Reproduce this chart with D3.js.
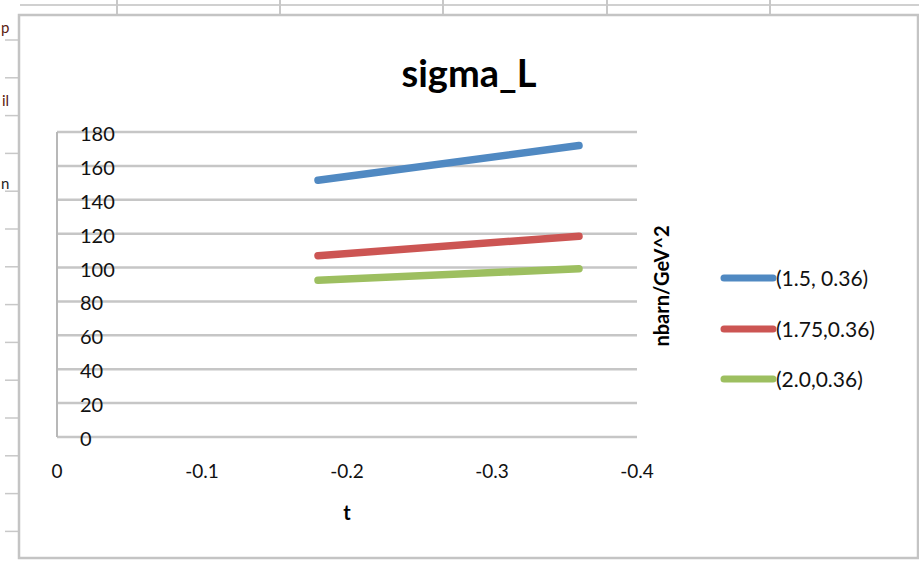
<!DOCTYPE html>
<html><head><meta charset="utf-8">
<script src="https://cdn.jsdelivr.net/npm/d3@7"></script>
<style>body{margin:0;background:#fff;}svg{display:block;}</style>
</head><body>
<script>
const tValues = [-0.18, -0.36];
const seriesNames = ["(1.5, 0.36)", "(1.75,0.36)", "(2.0,0.36)"];
const seriesBlue = [151.5, 172];
const seriesRed = [107, 118.5];
const seriesGreen = [92.5, 99.3];
const seriesColors = ["#5089c2", "#cc5553", "#9dbf60"];
const yTicks = [0, 20, 40, 60, 80, 100, 120, 140, 160, 180];
const xTicks = [0, -0.1, -0.2, -0.3, -0.4];
const xTickLabels = ["0", "-0.1", "-0.2", "-0.3", "-0.4"];

const W = 919, H = 565;
const svg = d3.select("body").append("svg").attr("width", W).attr("height", H);
const font = "Lato, 'Open Sans', sans-serif";

// spreadsheet background fragments
const sheet = svg.append("g");
sheet.append("line").attr("x1", 20).attr("x2", W).attr("y1", 5).attr("y2", 5).attr("stroke", "#d0d0d0").attr("stroke-width", 2);
[117, 280, 443, 607, 770].forEach(x => sheet.append("line").attr("x1", x).attr("x2", x).attr("y1", 0).attr("y2", 15).attr("stroke", "#c8c8c8").attr("stroke-width", 2));
d3.range(40, 560, 37.8).forEach(y => sheet.append("line").attr("x1", 5).attr("x2", 19).attr("y1", y).attr("y2", y).attr("stroke", "#c8c8c8").attr("stroke-width", 1.5));
sheet.append("text").attr("x", 1).attr("y", 33).text("p").attr("font-family", font).attr("font-size", 15).attr("fill", "#5a1a10");
sheet.append("text").attr("x", 2).attr("y", 106).text("il").attr("font-family", font).attr("font-size", 15).attr("fill", "#5a1a10");
sheet.append("text").attr("x", 1).attr("y", 189).text("n").attr("font-family", font).attr("font-size", 15).attr("fill", "#222");

// chart area frame
svg.append("rect").attr("x", 19).attr("y", 15).attr("width", 899).attr("height", 543)
  .attr("fill", "#fff").attr("stroke", "#c4c4c4").attr("stroke-width", 2.5);

const x = d3.scaleLinear().domain([0, -0.4]).range([57, 637]);
const y = d3.scaleLinear().domain([0, 180]).range([437, 132]);

// gridlines
svg.append("g").selectAll("line").data(yTicks).join("line")
  .attr("x1", 57).attr("x2", 637).attr("y1", d => y(d)).attr("y2", d => y(d))
  .attr("stroke", "#c6c6c6").attr("stroke-width", 2.5);
svg.append("line").attr("x1", 57).attr("x2", 57).attr("y1", y(180)).attr("y2", y(0))
  .attr("stroke", "#b8b8b8").attr("stroke-width", 2);

// y tick labels (overlapping gridlines)
svg.append("g").selectAll("text").data(yTicks).join("text")
  .attr("x", 80).attr("y", d => y(d) + 9).text(d => d)
  .attr("font-family", font).attr("font-size", 20).attr("fill", "#111");

// x tick labels
svg.append("g").selectAll("text").data(xTicks).join("text")
  .attr("x", d => x(d)).attr("y", 478).attr("text-anchor", "middle")
  .text((d, i) => xTickLabels[i])
  .attr("font-family", font).attr("font-size", 19).attr("fill", "#111");

// title & axis titles
svg.append("text").attr("x", 469).attr("y", 87).attr("text-anchor", "middle").text("sigma_L")
  .attr("font-family", font).attr("font-weight", "bold").attr("font-size", 38).attr("fill", "#000");
svg.append("text").attr("x", 347).attr("y", 520).attr("text-anchor", "middle").text("t")
  .attr("font-family", font).attr("font-weight", "bold").attr("font-size", 20).attr("fill", "#000");
svg.append("text").attr("transform", "translate(669,286) rotate(-90)").attr("text-anchor", "middle").text("nbarn/GeV^2")
  .attr("font-family", font).attr("font-weight", "bold").attr("font-size", 20).attr("fill", "#000");

// series lines
const allSeries = [seriesBlue, seriesRed, seriesGreen];
const line = d3.line().x((d, i) => x(tValues[i])).y(d => y(d));
allSeries.forEach((s, k) => {
  svg.append("path").datum(s).attr("d", line).attr("fill", "none")
    .attr("stroke", seriesColors[k]).attr("stroke-width", 7.5).attr("stroke-linecap", "round");
});

// legend
const legY = [278, 329, 379];
seriesNames.forEach((n, k) => {
  svg.append("line").attr("x1", 724).attr("x2", 773).attr("y1", legY[k]).attr("y2", legY[k])
    .attr("stroke", seriesColors[k]).attr("stroke-width", 7).attr("stroke-linecap", "round");
  svg.append("text").attr("x", 776).attr("y", legY[k] + 8).text(n)
    .attr("font-family", font).attr("font-size", 21).attr("fill", "#111");
});
</script>
</body></html>
